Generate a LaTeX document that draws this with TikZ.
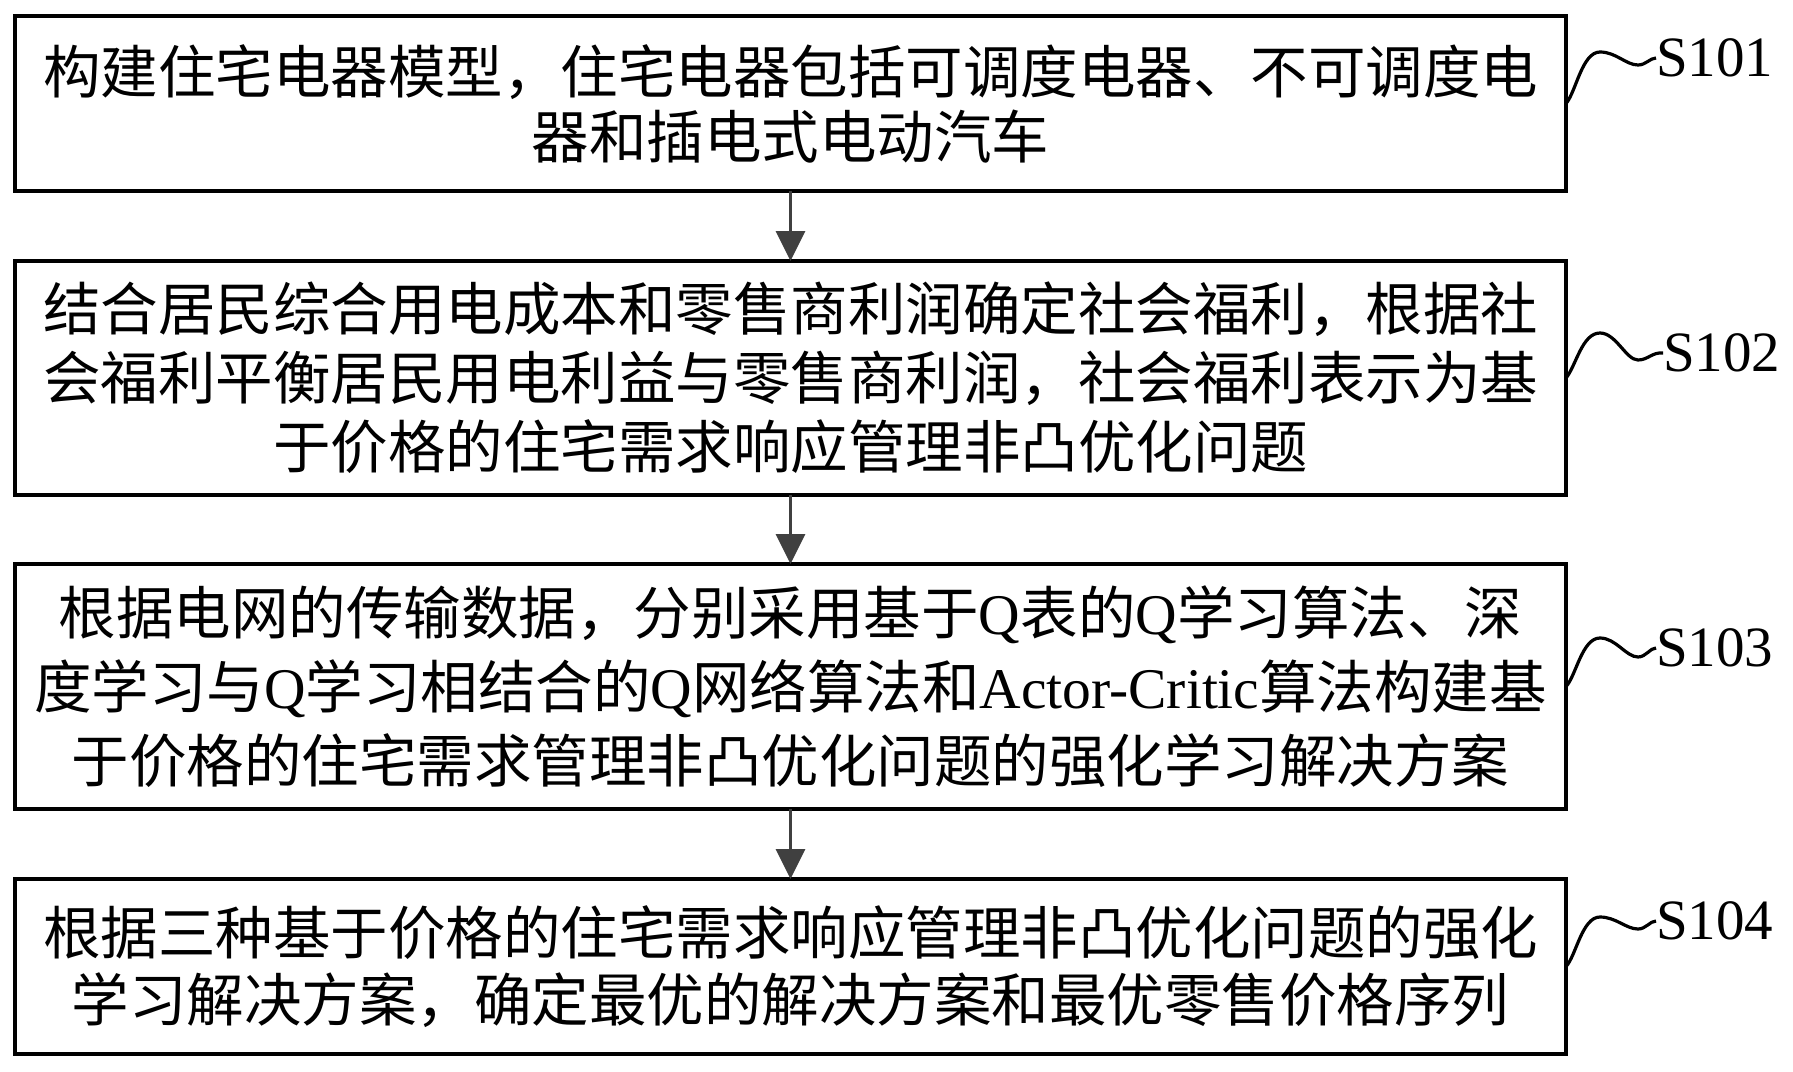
\documentclass[tikz,border=0pt]{standalone}
\usepackage{fontspec}
\setmainfont{Liberation Serif}
\newfontfamily\cjk{Noto Sans CJK SC}
\usetikzlibrary{arrows.meta}
\newcommand\latn[1]{{\rmfamily #1}}
\definecolor{arrowgray}{HTML}{404040}
\begin{document}
\begin{tikzpicture}[x=1pt,y=-1pt,
  stepbox/.style={draw=black,line width=3.5pt,minimum width=1551pt,inner sep=0pt,outer sep=0pt,
    align=center,font=\cjk\fontsize{57.5}{67}\selectfont},
  flowarrow/.style={draw=arrowgray,line width=3.5pt,-{Triangle[length=30pt,width=29pt]}},
  wave/.style={draw=black,line width=3.2pt},
  steplabel/.style={anchor=west,inner sep=0pt,outer sep=0pt,font=\fontsize{57}{60}\selectfont}]
\useasboundingbox (0,0) rectangle (1793,1071);

\node[stepbox,minimum height=175pt,font=\cjk\fontsize{57.5}{65}\selectfont] (b1) at (790.5,103.5)
  {构建住宅电器模型，住宅电器包括可调度电器、不可调度电\\器和插电式电动汽车};
\node[stepbox,minimum height=234pt,font=\cjk\fontsize{57.5}{69}\selectfont] (b2) at (790.5,378)
  {结合居民综合用电成本和零售商利润确定社会福利，根据社\\会福利平衡居民用电利益与零售商利润，社会福利表示为基\\于价格的住宅需求响应管理非凸优化问题};
\node[stepbox,minimum height=245pt,font=\cjk\fontsize{57.5}{74}\selectfont] (b3) at (790.5,686.5)
  {根据电网的传输数据，分别采用基于\latn{Q}表的\latn{Q}学习算法、深\\度学习与\latn{Q}学习相结合的\latn{Q}网络算法和\latn{Actor-Critic}算法构建基\\于价格的住宅需求管理非凸优化问题的强化学习解决方案};
\node[stepbox,minimum height=175pt] (b4) at (790.5,966.5)
  {根据三种基于价格的住宅需求响应管理非凸优化问题的强化\\学习解决方案，确定最优的解决方案和最优零售价格序列};

\draw[flowarrow] (b1.south) -- (b2.north);
\draw[flowarrow] (b2.south) -- (b3.north);
\draw[flowarrow] (b3.south) -- (b4.north);

\node[steplabel] (l1) at (1656,58) {S101};
\node[steplabel] (l2) at (1663,353) {S102};
\node[steplabel] (l3) at (1656,648) {S103};
\node[steplabel] (l4) at (1656,921) {S104};

\draw[wave] (b1.east) .. controls (1576,92) and (1582,52) .. (1600,52)
  .. controls (1616,52) and (1626,65) .. (1638,65)
  .. controls (1646,65) and (1650,58) .. (l1.west);
\draw[wave] (b2.east) .. controls (1576,366) and (1582,333) .. (1600,333)
  .. controls (1616,333) and (1626,360) .. (1638,360)
  .. controls (1648,360) and (1652,352) .. (l2.west);
\draw[wave] (b3.east) .. controls (1576,676) and (1582,638) .. (1600,638)
  .. controls (1616,638) and (1626,657) .. (1638,657)
  .. controls (1646,657) and (1650,648) .. (l3.west);
\draw[wave] (b4.east) .. controls (1576,956) and (1582,917) .. (1600,917)
  .. controls (1616,917) and (1626,929) .. (1638,929)
  .. controls (1646,929) and (1650,921) .. (l4.west);
\end{tikzpicture}
\end{document}
